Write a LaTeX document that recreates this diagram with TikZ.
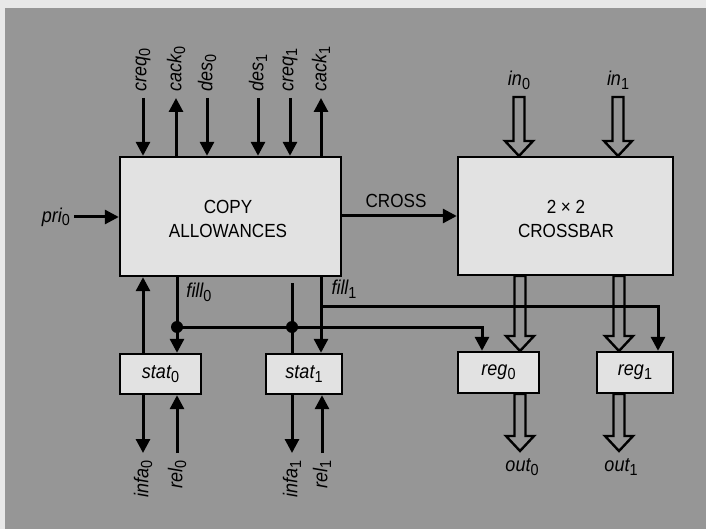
\documentclass[tikz,border=0pt]{standalone}
\usepackage{fontspec}
\setmainfont{Liberation Sans}[FakeStretch=0.9]
\usetikzlibrary{arrows.meta,calc}
\definecolor{bg}{RGB}{150,150,150}
\definecolor{strip}{RGB}{232,232,232}
\definecolor{boxfill}{RGB}{226,226,226}
\newcommand{\sbs}[1]{\raisebox{-0.35ex}{\fontsize{16}{16}\selectfont\upshape #1}}
\tikzset{
  box/.style={draw=black, line width=2.4pt, fill=boxfill, inner sep=0pt},
  sig/.style={line width=3pt, -{Triangle[length=14pt,width=14pt]}},
  wire/.style={line width=3pt},
  lab/.style={font=\fontsize{20}{22}\selectfont\itshape, inner sep=1pt},
  rlab/.style={lab, rotate=90},
  caps/.style={font=\fontsize{19}{24}\selectfont, align=center},
  hollow/.style={draw=black, line width=2.4pt, line join=miter},
  dot/.style={circle, fill=black, minimum size=12pt, inner sep=0pt}
}
% hollow arrow: x, ytop, ytip
\newcommand{\harrow}[3]{%
  \draw[hollow] ({#1-5.5},{#2}) -- ({#1+5.5},{#2}) -- ({#1+5.5},{#3-15}) -- ({#1+14},{#3-15})
    -- ({#1},{#3}) -- ({#1-14},{#3-15}) -- ({#1-5.5},{#3-15}) -- cycle;}
\begin{document}
\begin{tikzpicture}[x=1pt,y=-1pt]
\fill[strip] (0,0) rectangle (706,529);
\fill[bg] (5,8) rectangle (706,529);
\useasboundingbox (0,0) rectangle (706,529);

% boxes
\node[box, minimum width=221pt, minimum height=119pt] (copy) at (230.5,216.5) {};
\node[caps] at (228,219) {COPY\\ALLOWANCES};
\node[box, minimum width=215pt, minimum height=118pt] (xbar) at (565.5,216) {};
\node[caps] at (566,219) {2 × 2\\CROSSBAR};
\node[box, minimum width=81pt, minimum height=40pt] (stat0) at (160.5,374) {};
\node[lab] at (160.5,374) {stat\sbs{0}};
\node[box, minimum width=76pt, minimum height=40pt] (stat1) at (304,374) {};
\node[lab] at (304,374) {stat\sbs{1}};
\node[box, minimum width=81pt, minimum height=41pt] (reg0) at (498.5,372.5) {};
\node[lab] at (498.5,372.5) {reg\sbs{0}};
\node[box, minimum width=76pt, minimum height=41pt] (reg1) at (635,372.5) {};
\node[lab] at (635,372.5) {reg\sbs{1}};

% top signals
\node[rlab, anchor=west] (creq0) at (143,93) {creq\sbs{0}};
\node[rlab, anchor=west] (cack0) at (176,93) {cack\sbs{0}};
\node[rlab, anchor=west] (des0)  at (207,93) {des\sbs{0}};
\node[rlab, anchor=west] (des1)  at (258,93) {des\sbs{1}};
\node[rlab, anchor=west] (creq1) at (290,93) {creq\sbs{1}};
\node[rlab, anchor=west] (cack1) at (321,93) {cack\sbs{1}};
\draw[sig, shorten <=5pt] (creq0.west) -- (creq0.west |- copy.north);
\draw[sig, shorten >=5pt] (cack0.west |- copy.north) -- (cack0.west);
\draw[sig, shorten <=5pt] (des0.west) -- (des0.west |- copy.north);
\draw[sig, shorten <=5pt] (des1.west) -- (des1.west |- copy.north);
\draw[sig, shorten <=5pt] (creq1.west) -- (creq1.west |- copy.north);
\draw[sig, shorten >=5pt] (cack1.west |- copy.north) -- (cack1.west);

% pri
\node[lab, anchor=east] (pri0) at (71,217) {pri\sbs{0}};
\draw[sig, shorten <=3pt] (pri0.east) -- (pri0.east -| copy.west);

% CROSS
\draw[sig] (copy.east |- 0,216) -- (xbar.west |- 0,216);
\node[caps] at (396,201) {CROSS};

% crossbar inputs
\node[lab] (in0) at (519,80) {in\sbs{0}};
\node[lab] (in1) at (618,80) {in\sbs{1}};
\harrow{519}{97}{156}
\harrow{618}{97}{156}

% crossbar to regs, outputs
\harrow{520}{276}{351}
\harrow{619}{276}{351}
\harrow{520}{394}{451}
\harrow{619}{394}{451}
\node[lab] (out0) at (522,467) {out\sbs{0}};
\node[lab] (out1) at (621,467) {out\sbs{1}};

% below copy
\coordinate (j0) at (177,327);
\coordinate (j1) at (292,327);
\coordinate (t1) at (292,283);
\coordinate (b1) at (321,306);
\draw[sig] (stat0.north -| 143,0) -- (copy.south -| 143,0);
\draw[sig] (copy.south -| j0) -- (stat0.north -| j0);
\draw[sig] (j0) -- (482,327) -- (reg0.north -| 482,0);
\draw[wire] (t1) -- (stat1.north -| t1);
\draw[sig] (copy.south -| b1) -- (stat1.north -| b1);
\draw[sig] (b1) -- (658,306) -- (reg1.north -| 658,0);
\node[dot] at (j0) {};
\node[dot] at (j1) {};
\node[lab] at (199,292) {fill\sbs{0}};
\node[lab] at (344,289) {fill\sbs{1}};

% below stats
\node[rlab, anchor=east] (infa0) at (143,459) {infa\sbs{0}};
\node[rlab, anchor=east] (rel0)  at (177,459) {rel\sbs{0}};
\node[rlab, anchor=east] (infa1) at (292,459) {infa\sbs{1}};
\node[rlab, anchor=east] (rel1)  at (322,459) {rel\sbs{1}};
\draw[sig, shorten >=6pt] (infa0.east |- stat0.south) -- (infa0.east);
\draw[sig, shorten <=6pt] (rel0.east) -- (rel0.east |- stat0.south);
\draw[sig, shorten >=6pt] (infa1.east |- stat1.south) -- (infa1.east);
\draw[sig, shorten <=6pt] (rel1.east) -- (rel1.east |- stat1.south);
\end{tikzpicture}
\end{document}
